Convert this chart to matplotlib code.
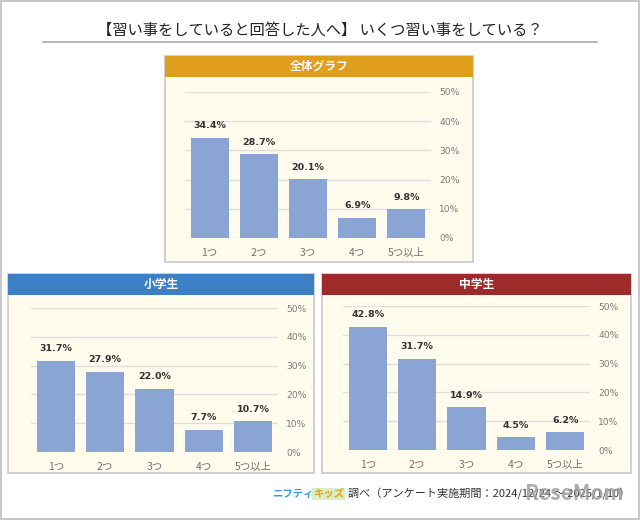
import matplotlib.pyplot as plt
from matplotlib.patches import Rectangle

plt.rcParams['font.family'] = ['Noto Sans CJK JP', 'DejaVu Sans']

categories = ["1つ", "2つ", "3つ", "4つ", "5つ以上"]
all_values = [34.4, 28.7, 20.1, 6.9, 9.8]
elem_values = [31.7, 27.9, 22.0, 7.7, 10.7]
junior_values = [42.8, 31.7, 14.9, 4.5, 6.2]
yticks = [0, 10, 20, 30, 40, 50]

W, H = 640, 520
fig = plt.figure(figsize=(6.4, 5.2), dpi=100)
fig.patch.set_facecolor("white")

BAR = "#8aa5d3"
PANEL_BG = "#fffcee"


def px(x, y, w, h):
    # pixel box (top-left origin) -> figure fraction
    return [x / W, 1 - (y + h) / H, w / W, h / H]


def panel(x, y, w, h, head_h, head_color, title, plot_box, values):
    # background + border
    fig.patches.append(Rectangle((x / W, 1 - (y + h) / H), w / W, h / H,
                                 transform=fig.transFigure, facecolor=PANEL_BG,
                                 edgecolor="#c8c8c8", lw=1.2, zorder=-2))
    fig.patches.append(Rectangle((x / W, 1 - (y + head_h) / H), w / W, head_h / H,
                                 transform=fig.transFigure, facecolor=head_color,
                                 edgecolor="none", zorder=-1))
    fig.text((x + w / 2) / W, 1 - (y + head_h / 2) / H, title, color="white",
             fontsize=8.5, fontweight="bold", ha="center", va="center")

    ax = fig.add_axes(px(*plot_box))
    ax.set_zorder(3)
    ax.set_facecolor("none")
    xs = range(len(categories))
    ax.bar(xs, values, width=0.77, color=BAR, zorder=2)
    for i, v in zip(xs, values):
        ax.text(i, v + 2.6, f"{v:.1f}%", ha="center", va="bottom",
                fontsize=6.8, fontweight="bold", color="#333333", family="DejaVu Sans")
    ax.set_xlim(-0.5, len(categories) - 0.5)
    ax.set_ylim(0, 50)
    ax.set_yticks(yticks)
    ax.set_yticklabels([f"{t}%" for t in yticks], family="DejaVu Sans")
    ax.yaxis.tick_right()
    ax.yaxis.grid(True, color="#dedede", lw=1, zorder=0)
    ax.set_axisbelow(True)
    ax.set_xticks(list(xs))
    ax.set_xticklabels(categories)
    ax.tick_params(axis="both", length=0, labelsize=7.5, colors="#707070")
    ax.tick_params(axis="y", pad=6, labelsize=6.6, colors="#7a7a7a")
    ax.tick_params(axis="x", pad=7)
    for s in ax.spines.values():
        s.set_visible(False)
    return ax


# outer border
fig.patches.append(Rectangle((0.002, 0.002), 0.996, 0.996, transform=fig.transFigure,
                             facecolor="none", edgecolor="#c8c8c8", lw=1.5, zorder=-3))

# title
fig.text(0.5, 1 - 30 / H, "【習い事をしていると回答した人へ】 いくつ習い事をしている？",
         ha="center", va="center", fontsize=11, color="#222222")
fig.add_artist(plt.Line2D([43 / W, 597 / W], [1 - 42 / H, 1 - 42 / H],
                          color="#aaaaaa", lw=1.2))

panel(165, 56, 308, 206, 21, "#e09e1f", "全体グラフ", (185, 92, 246, 146), all_values)
panel(8, 274, 306, 199, 21, "#3b7fc4", "小学生", (31, 308, 247, 144), elem_values)
panel(322, 274, 309, 199, 21, "#9e2a2a", "中学生", (343, 306, 247, 144), junior_values)

# footer
fig.text(272 / W, 1 - 494 / H, "ニフティ", color="#3a9ad9", fontsize=7.5,
         fontweight="bold", ha="left", va="center")
fig.text(313 / W, 1 - 494 / H, "キッズ", color="#e8a020", fontsize=7.5,
         fontweight="bold", ha="left", va="center",
         bbox=dict(boxstyle="square,pad=0.05", facecolor="#d9efc4", edgecolor="none"))
fig.text(348 / W, 1 - 494 / H, "調べ（アンケート実施期間：2024/12/24 ～ 2025/1/10）",
         color="#333333", fontsize=8, ha="left", va="center")
fig.text(624 / W, 1 - 493 / H, "ReseMom", color="#9a9a9a", fontsize=15,
         fontweight="bold", ha="right", va="center", alpha=0.8)

fig.savefig("out.png", dpi=100)
